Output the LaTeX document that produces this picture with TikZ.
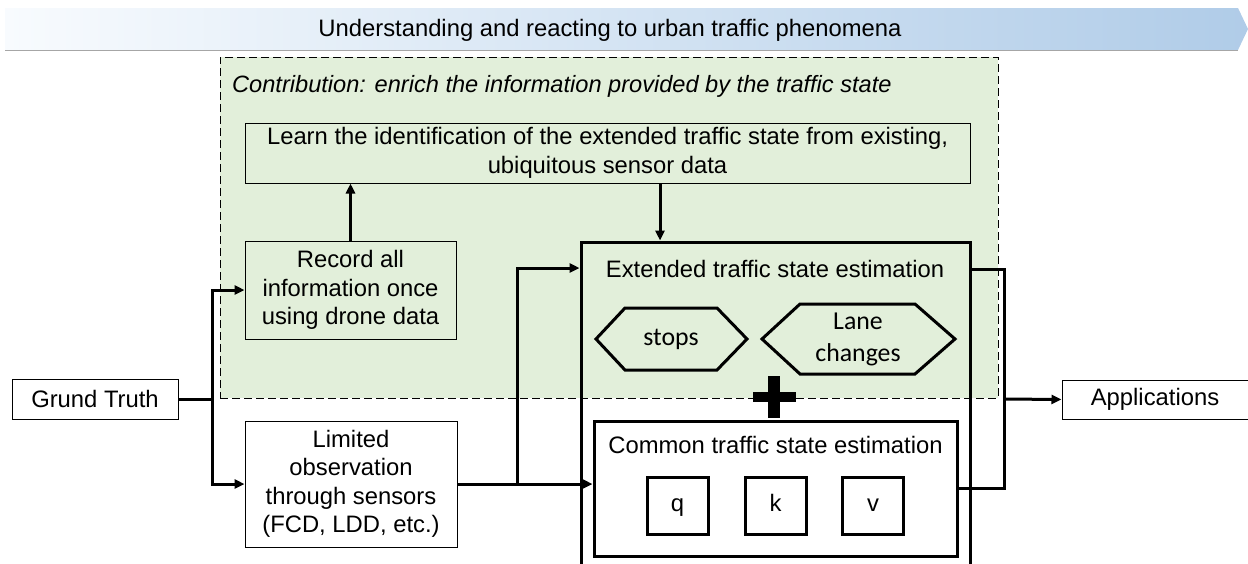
\documentclass[tikz,border=0pt]{standalone}
\usepackage{fontspec}
\setmainfont{Liberation Sans}
\newfontfamily\calfont{Carlito}
\usetikzlibrary{arrows.meta,calc}
\definecolor{regiongreen}{RGB}{226,239,218}
\definecolor{bannerL}{RGB}{248,251,254}
\definecolor{bannerR}{RGB}{176,204,232}
\begin{document}
\begin{tikzpicture}[x=1pt,y=-1pt,
  every node/.style={font=\fontsize{23.8}{28.5}\selectfont, inner sep=0pt, align=center},
  thinbox/.style={draw, line width=1pt, rectangle},
  thickbox/.style={draw, line width=3pt, rectangle},
  letterbox/.style={thickbox, minimum width=61pt, minimum height=57pt, text height=14pt, text depth=2.6pt},
  hexa/.style={draw, line width=3pt, line join=miter},
  hexlabel/.style={font=\fontsize{25.8}{32}\selectfont\calfont},
  conn/.style={line width=3pt},
  arr/.style={line width=3pt, -{Triangle[length=10pt,width=9pt]}},
]
\useasboundingbox (0,0) rectangle (1248,563);
% banner
\shade[left color=bannerL, right color=bannerR] (5,8) -- (1238,8) -- (1248,29) -- (1238,50) -- (5,50) -- cycle;
\draw[black!35, line width=1pt] (5,50) -- (1238,50);
\node (banner) at (610,30) {Understanding and reacting to urban traffic phenomena};
% contribution region
\node[draw, dash pattern=on 8pt off 4pt, line width=1pt, fill=regiongreen, minimum width=778pt, minimum height=341pt] (region) at (609,227.5) {};
\node[anchor=base west, font=\fontsize{23.6}{28}\selectfont\itshape] (contrib) at (232,92) {Contribution: enrich the information provided by the traffic state};
% learn
\node[thinbox, fill=regiongreen, minimum width=725pt, minimum height=60pt] (learn) at (607.5,153) {Learn the identification of the extended traffic state from existing,\\ubiquitous sensor data};
% record
\node[thinbox, fill=regiongreen, minimum width=211pt, minimum height=98pt] (record) at (350.5,290) {Record all\\information once\\using drone data};
% limited
\node[thinbox, fill=white, minimum width=212pt, minimum height=126pt] (limited) at (351,484) {Limited\\observation\\through sensors\\(FCD, LDD, etc.)};
% extended box (bottom outside picture)
\node[thickbox, minimum width=389pt, minimum height=328pt] (extbox) at (775.5,406) {};
\node (exttitle) at (775,269) {Extended traffic state estimation};
% hexagons
\draw[hexa] (596,339) -- (625,308) -- (717,308) -- (747,339) -- (717,370) -- (625,370) -- cycle;
\node[hexlabel] (stops) at (671,339) {stops};
\draw[hexa] (762,339) -- (800,304) -- (915,304) -- (955,339) -- (915,374) -- (800,374) -- cycle;
\node[hexlabel] (lane) at (858,339) {Lane\\changes};
% plus
\fill (768,376) rectangle (780,418);
\fill (753,392) rectangle (796,402);
% common
\node[thickbox, fill=white, minimum width=363pt, minimum height=135pt] (common) at (775.5,488.5) {};
\node (commontitle) at (775.5,445) {Common traffic state estimation};
\node[letterbox] (q) at (677.5,505.5) {q};
\node[letterbox] (k) at (775.5,505.5) {k};
\node[letterbox] (v) at (873,505.5) {v};
% grund truth and applications
\node[thinbox, fill=white, minimum width=166pt, minimum height=40pt] (grund) at (95,399) {Grund Truth};
\node[thinbox, fill=white, minimum width=186pt, minimum height=39pt] (apps) at (1155,399.5) {Applications};
% connectors
\coordinate (split) at (212,399);
\draw[conn] (grund.east) -- (split);
\draw[arr] (split) |- (record.west);
\draw[arr] (split) |- (limited.west);
\draw[arr] (record.north) -- (record.north |- learn.south);
\coordinate (learnout) at (660,183);
\draw[arr] (learnout) -- (learnout |- extbox.north);
\coordinate (branch) at (517,484);
\draw[arr] (limited.east) -- (common.west |- limited.east);
\draw[arr] (branch) |- (extbox.west |- 0,268);
\coordinate (join) at (1004,399);
\draw[conn, line join=miter] (extbox.east |- 0,269) -| (join) |- (common.east |- 0,488);
\draw[arr] (join) -- (apps.west);
\end{tikzpicture}
\end{document}
